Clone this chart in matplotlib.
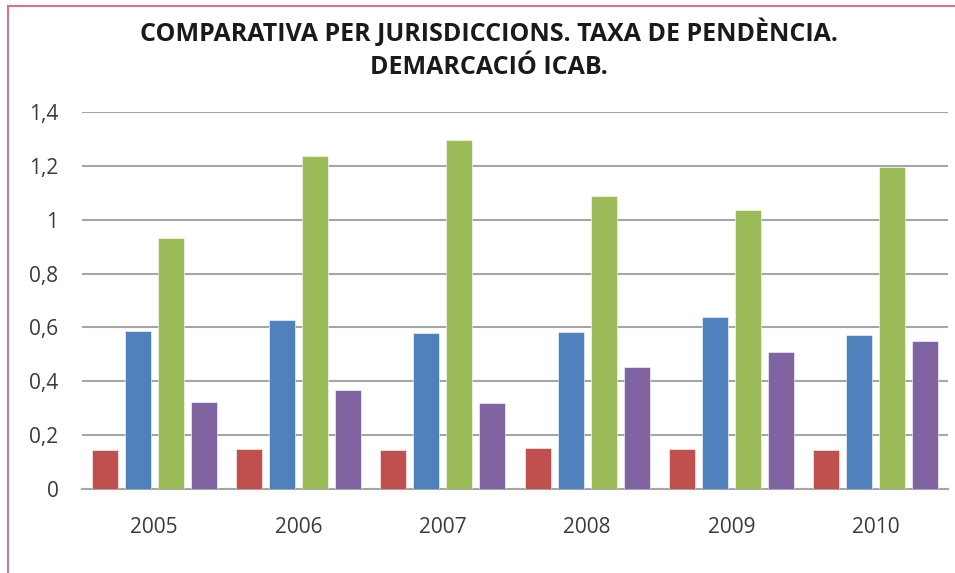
import matplotlib
matplotlib.use("Agg")
import matplotlib.pyplot as plt
from matplotlib.patches import Rectangle
import numpy as np

years = ["2005", "2006", "2007", "2008", "2009", "2010"]
serie_vermella = [0.145, 0.149, 0.145, 0.152, 0.149, 0.145]
serie_blava = [0.587, 0.628, 0.580, 0.583, 0.640, 0.572]
serie_verda = [0.932, 1.237, 1.296, 1.088, 1.036, 1.196]
serie_lila = [0.323, 0.368, 0.320, 0.453, 0.509, 0.550]
yticks = [0, 0.2, 0.4, 0.6, 0.8, 1.0, 1.2, 1.4]
ytick_labels = ["0", "0,2", "0,4", "0,6", "0,8", "1", "1,2", "1,4"]
title = "COMPARATIVA PER JURISDICCIONS. TAXA DE PENDÈNCIA.\nDEMARCACIÓ ICAB."

colors = ["#C0504D", "#4F81BD", "#9BBB59", "#8064A2"]
series = [serie_vermella, serie_blava, serie_verda, serie_lila]

plt.rcParams["font.family"] = ["Open Sans", "DejaVu Sans"]

fig = plt.figure(figsize=(9.55, 5.73), dpi=100)
fig.patch.set_facecolor("white")

# outer chart frame
fig.patches.append(Rectangle((8 / 955, -0.1), 1.2, 1 - 6 / 573 + 0.1,
                             transform=fig.transFigure, fill=False,
                             edgecolor="#D27395", linewidth=1.5))

ax = fig.add_axes([82 / 955, 1 - 489 / 573, (948 - 82) / 955, (489 - 112) / 573])

x = np.arange(len(years))
step = 0.2287
width = 0.18
for i, (vals, c) in enumerate(zip(series, colors)):
    ax.bar(x + (i - 1.5) * step, vals, width=width, color=c, zorder=3,
           edgecolor="white", linewidth=0.4)

ax.set_xlim(-0.5, len(years) - 0.5)
ax.set_ylim(0, 1.4)
ax.set_yticks(yticks)
ax.set_yticklabels(ytick_labels)
ax.set_xticks(x)
ax.set_xticklabels(years)
ax.tick_params(axis="both", length=0, labelsize=15, colors="#3A3A3A")
ax.tick_params(axis="y", pad=17)
ax.tick_params(axis="x", pad=20)

ax.yaxis.grid(True, color="#A6A6A6", linewidth=1.5, zorder=0)
for s in ["top", "right", "left"]:
    ax.spines[s].set_visible(False)
ax.spines["bottom"].set_color("#A6A6A6")
ax.spines["bottom"].set_linewidth(1.5)

fig.text(489 / 955, 1 - 49 / 573, title, ha="center", va="center",
         fontsize=18, fontweight="bold", color="#1A1A1A", linespacing=1.42)

fig.savefig("out.png", dpi=100)
